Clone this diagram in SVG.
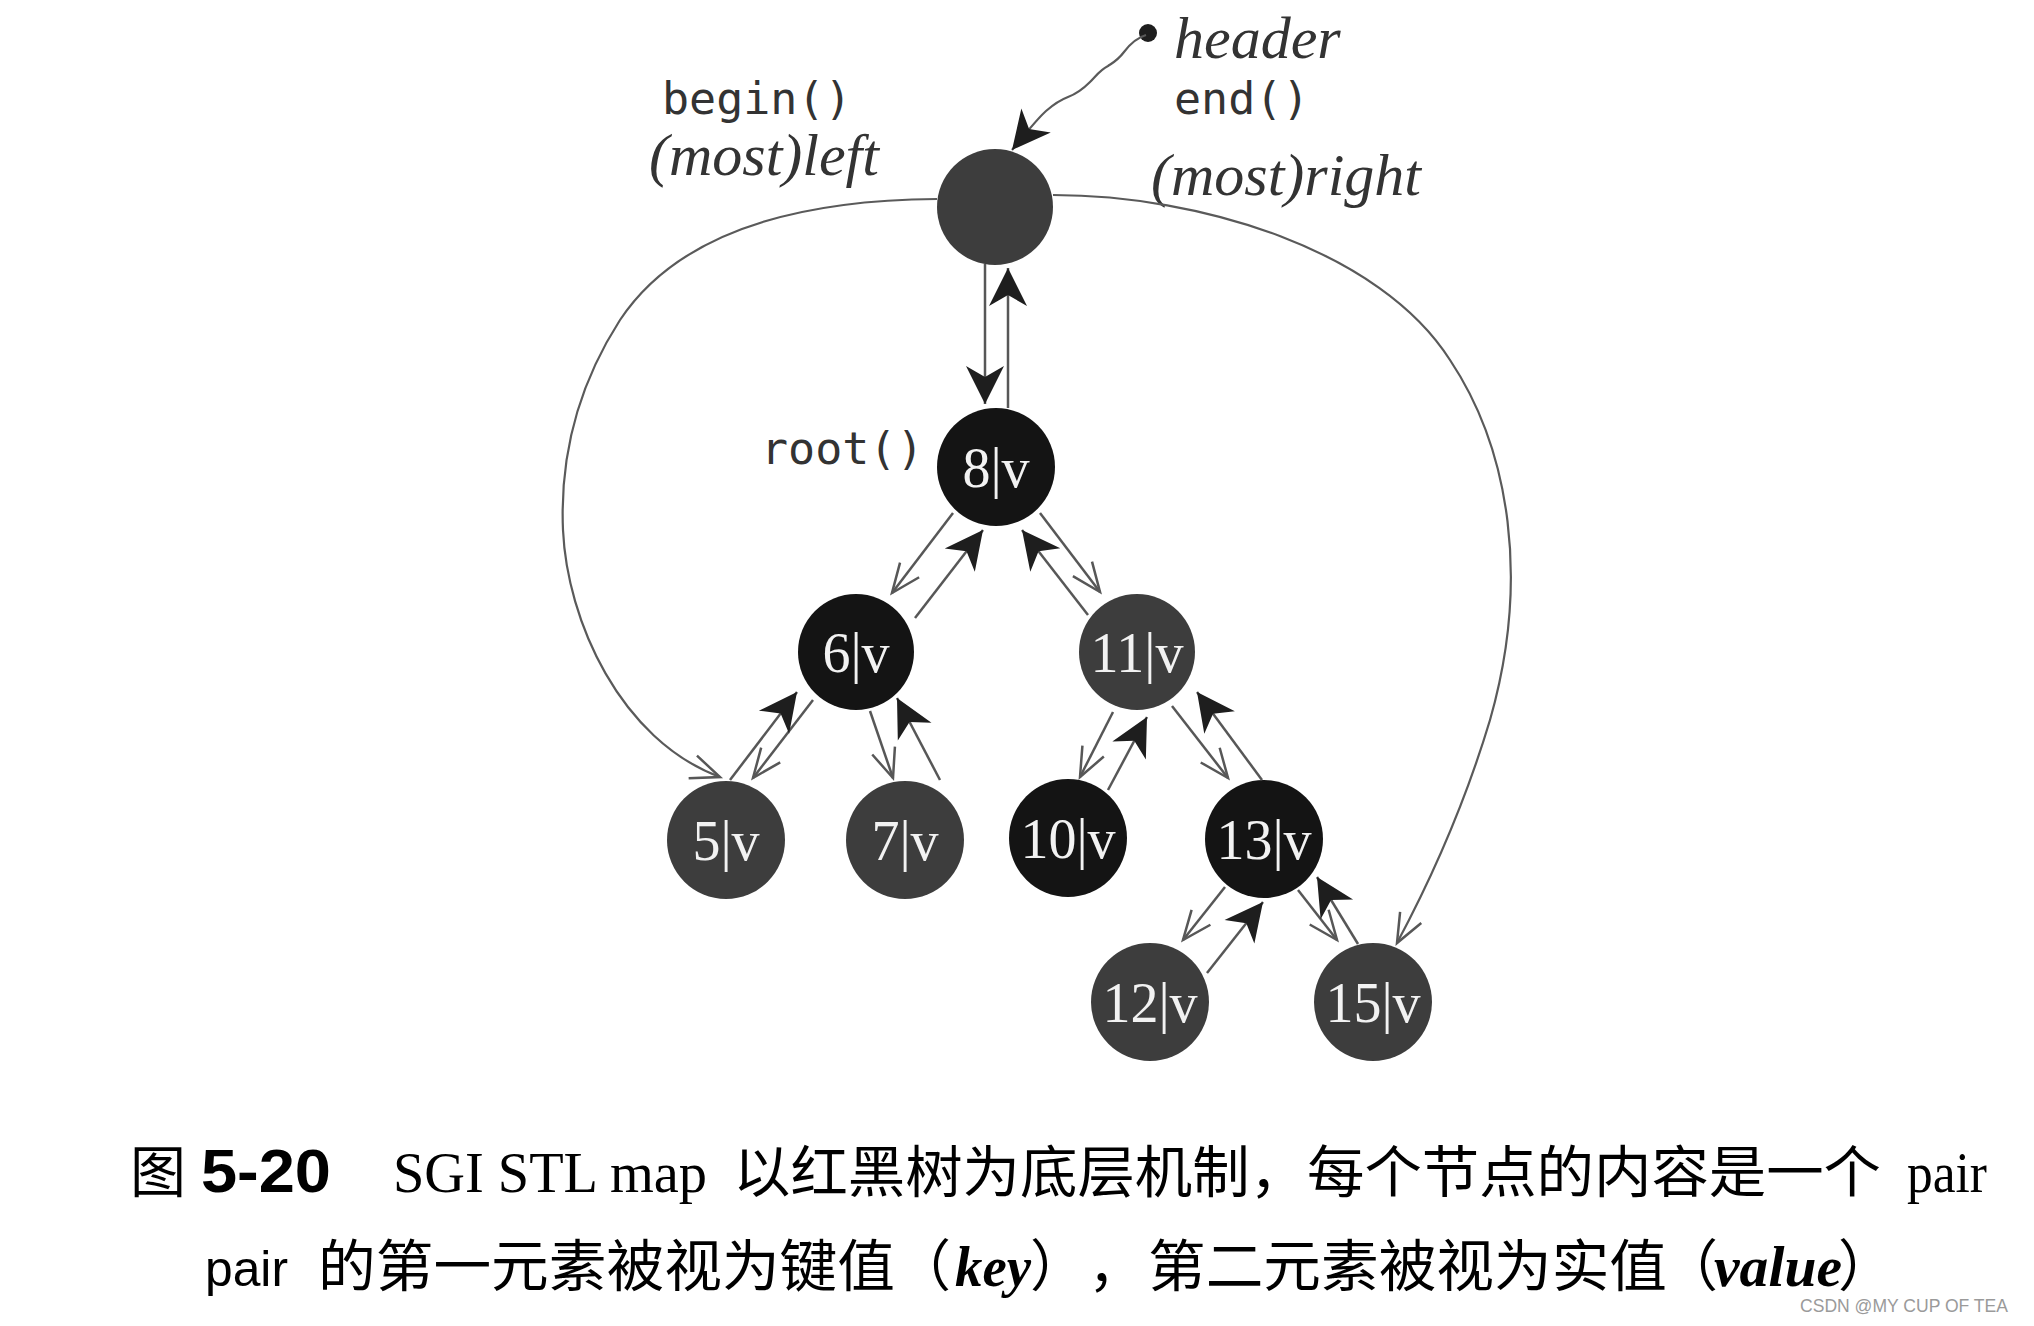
<svg xmlns="http://www.w3.org/2000/svg" width="2034" height="1326" viewBox="0 0 2034 1326">
<style>
.bg{fill:#fff}
.node{stroke:none}
.red{fill:#3d3d3d}
.blk{fill:#141414}
.lbl{font-family:"Liberation Serif","Times New Roman",serif;font-size:56px;fill:#f2f2f2;text-anchor:middle}
.mono{font-family:"DejaVu Sans Mono","Liberation Mono",monospace;font-size:45px;fill:#333}
.ital{font-family:"Liberation Serif","Times New Roman",serif;font-style:italic;font-size:60px;fill:#333}
.edge{fill:none;stroke:#575757;stroke-width:2.5}
.curve{fill:none;stroke:#5a5a5a;stroke-width:2.2}
.cjk{font-family:"Noto Sans CJK SC","Noto Sans CJK JP",sans-serif;font-size:56px;fill:#000}
.ser{font-family:"Liberation Serif","Times New Roman",serif;font-size:58px;fill:#000}
</style>
<defs>
<marker id="fill" viewBox="-42 -22 46 44" refX="0" refY="0" markerWidth="46" markerHeight="44" markerUnits="userSpaceOnUse" orient="auto">
<path d="M0,0 L-38,-19 L-27,0 L-38,19 Z" fill="#1e1e1e"/>
</marker>
<marker id="open" viewBox="-34 -17 38 34" refX="0" refY="0" markerWidth="38" markerHeight="34" markerUnits="userSpaceOnUse" orient="auto">
<path d="M-29,-12 L0,0 L-29,12" fill="none" stroke="#575757" stroke-width="2.5"/>
</marker>
</defs>
<rect class="bg" x="0" y="0" width="2034" height="1326"/>

<g id="labels">
<text class="ital" x="1174" y="58">header</text>
<text class="mono" x="1174" y="114">end()</text>
<text class="mono" x="662" y="114">begin()</text>
<text class="ital" x="649" y="175">(most)left</text>
<text class="ital" x="1151" y="195">(most)right</text>
<text class="mono" x="761" y="464">root()</text>
</g>

<g id="header">
<circle class="node red" cx="995" cy="207" r="58"/>
</g>
<g id="n8"><circle class="node blk" cx="996" cy="467" r="59"/><text class="lbl" x="996" y="487">8|v</text></g>
<g id="n6"><circle class="node blk" cx="856" cy="652" r="58"/><text class="lbl" x="856" y="672">6|v</text></g>
<g id="n11"><circle class="node red" cx="1137" cy="652" r="58"/><text class="lbl" x="1137" y="672">11|v</text></g>
<g id="n5"><circle class="node red" cx="726" cy="840" r="59"/><text class="lbl" x="726" y="860">5|v</text></g>
<g id="n7"><circle class="node red" cx="905" cy="840" r="59"/><text class="lbl" x="905" y="860">7|v</text></g>
<g id="n10"><circle class="node blk" cx="1068" cy="838" r="59"/><text class="lbl" x="1068" y="858">10|v</text></g>
<g id="n13"><circle class="node blk" cx="1264" cy="839" r="59"/><text class="lbl" x="1264" y="859">13|v</text></g>
<g id="n12"><circle class="node red" cx="1150" cy="1002" r="59"/><text class="lbl" x="1150" y="1022">12|v</text></g>
<g id="n15"><circle class="node red" cx="1373" cy="1002" r="59"/><text class="lbl" x="1373" y="1022">15|v</text></g>

<g id="connectors">
<circle cx="1148" cy="33" r="9" fill="#1e1e1e"/>
<path class="curve" d="M1146,35 C1136,38 1130,44 1124,52 C1118,60 1114,62 1108,66 C1100,70 1096,76 1090,82 C1082,90 1076,94 1068,97 C1060,100 1054,104 1046,111 C1038,118 1030,128 1012,150" marker-end="url(#fill)"/>
<line class="edge" x1="985" y1="264" x2="985" y2="404" marker-end="url(#fill)"/>
<line class="edge" x1="1008" y1="408" x2="1008" y2="268" marker-end="url(#fill)"/>
<path class="curve" d="M937,199 C800,200 680,230 620,320 C575,390 560,460 563,530 C567,620 620,740 720,777" marker-end="url(#open)"/>
<path class="curve" d="M1053,195 C1200,195 1380,250 1450,360 C1510,450 1530,580 1490,720 C1460,820 1420,900 1397,943" marker-end="url(#open)"/>
<line class="edge" x1="953" y1="513" x2="892" y2="593" marker-end="url(#open)"/>
<line class="edge" x1="915" y1="618" x2="983" y2="530" marker-end="url(#fill)"/>
<line class="edge" x1="1040" y1="513" x2="1100" y2="592" marker-end="url(#open)"/>
<line class="edge" x1="1088" y1="615" x2="1022" y2="530" marker-end="url(#fill)"/>
<line class="edge" x1="813" y1="700" x2="753" y2="778" marker-end="url(#open)"/>
<line class="edge" x1="730" y1="780" x2="797" y2="692" marker-end="url(#fill)"/>
<line class="edge" x1="870" y1="711" x2="893" y2="778" marker-end="url(#open)"/>
<line class="edge" x1="940" y1="780" x2="897" y2="698" marker-end="url(#fill)"/>
<line class="edge" x1="1113" y1="712" x2="1080" y2="777" marker-end="url(#open)"/>
<line class="edge" x1="1108" y1="790" x2="1147" y2="717" marker-end="url(#fill)"/>
<line class="edge" x1="1172" y1="706" x2="1228" y2="778" marker-end="url(#open)"/>
<line class="edge" x1="1262" y1="780" x2="1197" y2="692" marker-end="url(#fill)"/>
<line class="edge" x1="1225" y1="887" x2="1183" y2="940" marker-end="url(#open)"/>
<line class="edge" x1="1207" y1="973" x2="1263" y2="902" marker-end="url(#fill)"/>
<line class="edge" x1="1298" y1="890" x2="1337" y2="940" marker-end="url(#open)"/>
<line class="edge" x1="1358" y1="944" x2="1317" y2="877" marker-end="url(#fill)"/>
</g>

<g id="caption">
<text class="cjk" x="130" y="1192">图</text>
<text x="201" y="1192" font-family="Liberation Sans, Arial, sans-serif" font-weight="bold" font-size="62" textLength="130" lengthAdjust="spacingAndGlyphs">5-20</text>
<text class="ser" x="393" y="1192" textLength="314" lengthAdjust="spacingAndGlyphs">SGI STL map</text>
<text class="cjk" x="733" y="1192" textLength="1148" lengthAdjust="spacingAndGlyphs">以红黑树为底层机制，每个节点的内容是一个</text>
<text class="ser" x="1907" y="1192" textLength="80" lengthAdjust="spacingAndGlyphs">pair</text>
<text x="205" y="1286" font-family="Liberation Sans, Arial, sans-serif" font-size="50" textLength="83" lengthAdjust="spacingAndGlyphs">pair</text>
<text class="cjk" x="318" y="1286" textLength="577" lengthAdjust="spacingAndGlyphs">的第一元素被视为键值</text>
<text class="cjk" x="895" y="1286">（</text>
<text class="ser" x="955" y="1286" font-style="italic" font-weight="bold" textLength="76" lengthAdjust="spacingAndGlyphs">key</text>
<text class="cjk" x="1030" y="1286">）</text>
<text class="cjk" x="1088" y="1286">，</text>
<text class="cjk" x="1148" y="1286" textLength="519" lengthAdjust="spacingAndGlyphs">第二元素被视为实值</text>
<text class="cjk" x="1662" y="1286">（</text>
<text class="ser" x="1714" y="1286" font-style="italic" font-weight="bold" textLength="128" lengthAdjust="spacingAndGlyphs">value</text>
<text class="cjk" x="1838" y="1286">）</text>
<text x="1800" y="1312" font-family="Liberation Sans, Arial, sans-serif" font-size="19" fill="#9a9a9a" textLength="208" lengthAdjust="spacingAndGlyphs">CSDN @MY CUP OF TEA</text>
</g>
</svg>
